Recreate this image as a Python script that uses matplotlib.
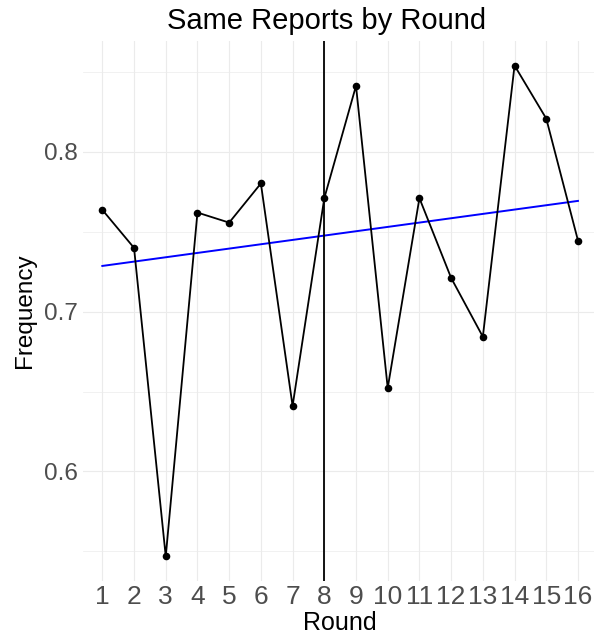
import numpy as np
import matplotlib
matplotlib.use("Agg")
import matplotlib.pyplot as plt

rounds = list(range(1, 17))
frequency = [0.7637, 0.7399, 0.5468, 0.7620, 0.7557, 0.7802, 0.6410, 0.7710,
             0.8413, 0.6522, 0.7710, 0.7211, 0.6843, 0.8540, 0.8208, 0.7445]
trend_rounds = [1, 16]
trend_values = [0.7286, 0.7693]
vline_round = 8
y_ticks = [0.6, 0.7, 0.8]
y_minor = [0.55, 0.65, 0.75, 0.85]

plt.rcParams['font.family'] = ['Liberation Sans', 'DejaVu Sans']

fig = plt.figure(figsize=(5.94, 6.4), dpi=100)
ax = fig.add_axes([83.3 / 594, 59 / 640, 513.7 / 594, 540 / 640])

x = np.array(rounds, dtype=float)
y = np.array(frequency)

grid_col = '#EBEBEB'
for t in rounds:
    ax.axvline(t, color=grid_col, lw=0.8, zorder=0)
for t in y_ticks:
    ax.axhline(t, color=grid_col, lw=0.8, zorder=0)
for t in y_minor:
    ax.axhline(t, color=grid_col, lw=0.5, zorder=0)

ax.plot(trend_rounds, trend_values, color='blue', lw=1.4, zorder=2)
ax.plot(x, y, color='black', lw=1.3, zorder=3)
ax.scatter(x, y, s=30, color='black', zorder=4, linewidths=0)
ax.axvline(vline_round, color='black', lw=1.3, zorder=5)

ax.set_xlim(0.4, 16.6)
yr = y.max() - y.min()
ax.set_ylim(y.min() - 0.05 * yr, y.max() + 0.05 * yr)
ax.set_xticks(rounds)
ax.set_xticklabels([str(r) for r in rounds])
ax.set_yticks(y_ticks)
ax.set_yticklabels([f"{t:.1f}" for t in y_ticks])
ax.tick_params(axis='both', length=0, labelcolor='#4D4D4D', pad=4)
ax.tick_params(axis='x', labelsize=19, pad=3)
ax.tick_params(axis='y', labelsize=17.5)
for s in ax.spines.values():
    s.set_visible(False)

ax.set_xlabel('Round', fontsize=18, color='black', labelpad=1)
ax.set_ylabel('Frequency', fontsize=17.5, color='black', labelpad=6)
fig.text(327 / 594, 1 - 29 / 640, 'Same Reports by Round', fontsize=21,
         color='black', ha='center', va='baseline')

fig.savefig('out.png', dpi=100)
